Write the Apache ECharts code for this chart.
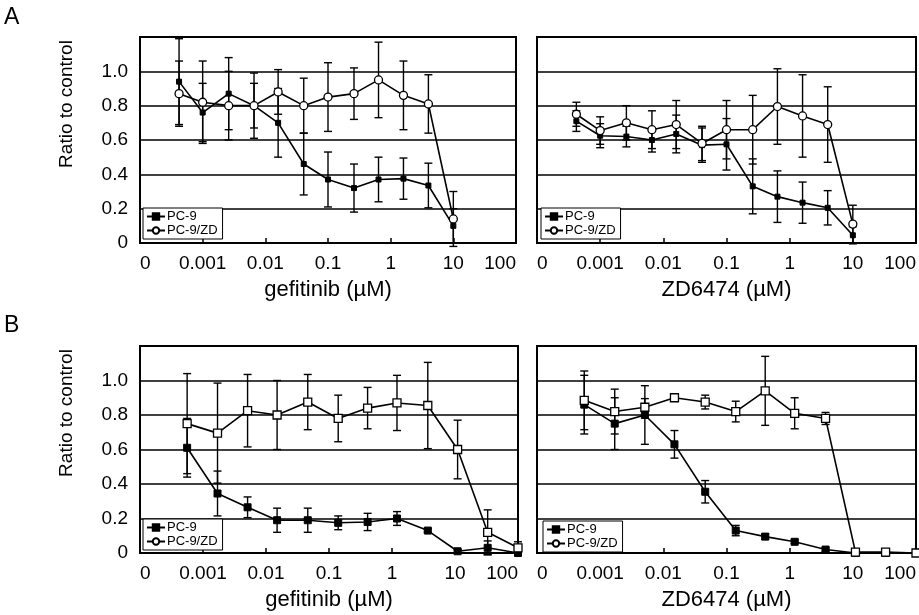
<!DOCTYPE html>
<html>
<head>
<meta charset="utf-8">
<script src="https://cdn.jsdelivr.net/npm/echarts@6/dist/echarts.min.js"></script>
<style>html,body{margin:0;padding:0;background:#fff}#c{width:919px;height:615px}</style>
</head>
<body>
<div id="c"></div>
<script>
// concentrations (µM)
const concA = [0.00042, 0.001, 0.0026, 0.0066, 0.016, 0.041, 0.1, 0.26, 0.64, 1.6, 4, 10];
const concB = [0.00056, 0.0017, 0.0051, 0.015, 0.046, 0.14, 0.41, 1.2, 3.7, 11, 33, 100];
const xTickLabels = ['0', '0.001', '0.01', '0.1', '1', '10', '100'];
const seriesNames = ['PC-9', 'PC-9/ZD'];

// Panel A, gefitinib
const gefA_pc9    = [0.94, 0.76, 0.87, 0.80, 0.70, 0.46, 0.37, 0.32, 0.37, 0.375, 0.335, 0.10];
const gefA_pc9Err = [0.25, 0.17, 0.21, 0.19, 0.20, 0.18, 0.16, 0.14, 0.13, 0.12, 0.13, 0.10];
const gefA_zd     = [0.87, 0.82, 0.80, 0.80, 0.88, 0.80, 0.85, 0.87, 0.95, 0.86, 0.81, 0.14];
const gefA_zdErr  = [0.19, 0.24, 0.20, 0.13, 0.13, 0.16, 0.20, 0.15, 0.22, 0.20, 0.17, 0.16];
// Panel A, ZD6474
const zdA_pc9    = [0.71, 0.625, 0.62, 0.60, 0.635, 0.57, 0.575, 0.33, 0.27, 0.235, 0.205, 0.045];
const zdA_pc9Err = [0.06, 0.07, 0.06, 0.07, 0.11, 0.10, 0.15, 0.16, 0.15, 0.12, 0.10, 0.05];
const zdA_zd     = [0.75, 0.655, 0.70, 0.66, 0.69, 0.58, 0.66, 0.66, 0.795, 0.74, 0.69, 0.11];
const zdA_zdErr  = [0.07, 0.08, 0.10, 0.11, 0.14, 0.10, 0.17, 0.20, 0.22, 0.24, 0.22, 0.11];
// Panel B, gefitinib
const gefB_pc9    = [0.61, 0.345, 0.265, 0.19, 0.19, 0.175, 0.18, 0.20, 0.13, 0.01, 0.03, 0.0];
const gefB_pc9Err = [0.17, 0.13, 0.06, 0.07, 0.07, 0.04, 0.05, 0.04, 0.01, 0.01, 0.04, 0.01];
const gefB_zd     = [0.75, 0.695, 0.825, 0.80, 0.875, 0.78, 0.84, 0.87, 0.855, 0.60, 0.12, 0.03];
const gefB_zdErr  = [0.29, 0.29, 0.21, 0.20, 0.16, 0.135, 0.12, 0.16, 0.25, 0.17, 0.13, 0.035];
// Panel B, ZD6474
const zdB_pc9    = [0.86, 0.75, 0.80, 0.63, 0.355, 0.13, 0.095, 0.065, 0.02, 0.0, 0.0, 0.0];
const zdB_pc9Err = [0.17, 0.15, 0.17, 0.08, 0.065, 0.03, 0.015, 0.01, 0.01, 0, 0, 0];
const zdB_zd     = [0.885, 0.82, 0.845, 0.90, 0.875, 0.82, 0.94, 0.81, 0.78, 0.005, 0.005, 0.0];
const zdB_zdErr  = [0.17, 0.13, 0.05, 0.02, 0.04, 0.06, 0.20, 0.09, 0.035, 0, 0, 0];

const FONT = 'Liberation Sans, Arial, Helvetica, sans-serif';

const grids = [
  {left: 140, top: 37, width: 376, height: 206},
  {left: 537, top: 37, width: 380, height: 206},
  {left: 140, top: 346, width: 378, height: 207},
  {left: 537, top: 346, width: 380, height: 207}
].map(g => Object.assign(g, {show: true, borderColor: '#000', borderWidth: 2, backgroundColor: 'transparent'}));

const xNames = ['gefitinib (µM)', 'ZD6474 (µM)', 'gefitinib (µM)', 'ZD6474 (µM)'];
const xAxes = xNames.map((nm, i) => ({
  type: 'log', logBase: 10, gridIndex: i, min: 0.0001, max: 100, splitNumber: 6,
  splitLine: {show: false},
  axisLine: {show: true, lineStyle: {color: '#000', width: 2}},
  axisTick: {show: true, inside: true, length: 5, lineStyle: {color: '#000', width: 1.5}},
  axisLabel: {
    color: '#000', fontSize: 19, fontFamily: FONT, margin: 11,
    showMinLabel: true, showMaxLabel: true,
    alignMinLabel: 'left', alignMaxLabel: 'right',
    formatter: v => xTickLabels[Math.round(Math.log10(v)) + 4]
  },
  name: nm, nameLocation: 'middle', nameGap: 36,
  nameTextStyle: {color: '#000', fontSize: 22, fontFamily: FONT}
}));

const yAxes = [0, 1, 2, 3].map(i => ({
  type: 'value', gridIndex: i, min: 0, max: 1.2, interval: 0.2,
  axisLine: {show: false}, axisTick: {show: false},
  splitLine: {show: true, lineStyle: {color: '#000', width: 1.5}},
  axisLabel: {
    show: i % 2 === 0, color: '#000', fontSize: 19, fontFamily: FONT, margin: 12,
    formatter: v => v === 0 ? '0' : (v > 1.1 ? '' : v.toFixed(1))
  }
}));

const series = [];
function errSeries(gi, conc, vals, errs) {
  return {
    type: 'custom', xAxisIndex: gi, yAxisIndex: gi, z: 3, silent: true,
    encode: {x: 0, y: [1, 2]},
    data: conc.map((c, i) => [c, vals[i] - errs[i], vals[i] + errs[i]]),
    renderItem: (params, api) => {
      const x = api.value(0), lo = api.value(1), hi = api.value(2);
      if (hi - lo <= 0) return {type: 'group', children: []};
      const p1 = api.coord([x, lo]), p2 = api.coord([x, hi]);
      const w = 4, st = {stroke: '#000', lineWidth: 1.4};
      return {type: 'group', children: [
        {type: 'line', shape: {x1: p1[0], y1: p1[1], x2: p2[0], y2: p2[1]}, style: st},
        {type: 'line', shape: {x1: p1[0] - w, y1: p1[1], x2: p1[0] + w, y2: p1[1]}, style: st},
        {type: 'line', shape: {x1: p2[0] - w, y1: p2[1], x2: p2[0] + w, y2: p2[1]}, style: st}
      ]};
    }
  };
}
function addPanel(gi, conc, pc9, pc9Err, zd, zdErr, shape) {
  series.push(errSeries(gi, conc, pc9, pc9Err));
  series.push(errSeries(gi, conc, zd, zdErr));
  series.push({
    name: seriesNames[0], type: 'line', xAxisIndex: gi, yAxisIndex: gi, z: 4, clip: false,
    data: conc.map((c, i) => [c, pc9[i]]),
    symbol: 'rect', symbolSize: shape === 'B' ? 7 : 5, showSymbol: true,
    lineStyle: {color: '#000', width: 1.6}, itemStyle: {color: '#000', borderColor: '#000', borderWidth: 1},
    emphasis: {disabled: true}
  });
  series.push({
    name: seriesNames[1], type: 'line', xAxisIndex: gi, yAxisIndex: gi, z: 5, clip: false,
    data: conc.map((c, i) => [c, zd[i]]),
    symbol: shape === 'B' ? 'rect' : 'circle', symbolSize: 8, showSymbol: true,
    lineStyle: {color: '#000', width: 1.6}, itemStyle: {color: '#fff', borderColor: '#000', borderWidth: 1.3},
    emphasis: {disabled: true}
  });
}
addPanel(0, concA, gefA_pc9, gefA_pc9Err, gefA_zd, gefA_zdErr, 'A');
addPanel(1, concA, zdA_pc9, zdA_pc9Err, zdA_zd, zdA_zdErr, 'A');
addPanel(2, concB, gefB_pc9, gefB_pc9Err, gefB_zd, gefB_zdErr, 'B');
addPanel(3, concB, zdB_pc9, zdB_pc9Err, zdB_zd, zdB_zdErr, 'B');

const legendPos = [[143, 208], [541, 208], [143, 519], [543, 521]];
const legends = legendPos.map(p => ({
  data: seriesNames, left: p[0], top: p[1], orient: 'vertical',
  borderColor: '#000', borderWidth: 1, backgroundColor: '#fff',
  padding: [2, 5, 2, 3], itemGap: 1, itemWidth: 18, itemHeight: 8,
  selectedMode: false,
  textStyle: {color: '#000', fontSize: 13, fontFamily: FONT, padding: [0, 0, 0, -3]}
}));

const chart = echarts.init(document.getElementById('c'), null, {renderer: 'canvas'});
chart.setOption({
  backgroundColor: '#fff',
  animation: false,
  grid: grids, xAxis: xAxes, yAxis: yAxes, series: series, legend: legends,
  graphic: [
    {type: 'text', x: 4, y: 6, style: {text: 'A', font: '23px ' + FONT, fill: '#000'}},
    {type: 'text', x: 4, y: 314, style: {text: 'B', font: '23px ' + FONT, fill: '#000'}},
    {type: 'text', x: 67, y: 104, rotation: Math.PI / 2,
     style: {text: 'Ratio to control', font: '19px ' + FONT, fill: '#000', align: 'center', verticalAlign: 'middle'}},
    {type: 'text', x: 67, y: 413, rotation: Math.PI / 2,
     style: {text: 'Ratio to control', font: '19px ' + FONT, fill: '#000', align: 'center', verticalAlign: 'middle'}}
  ]
});
</script>
</body>
</html>
